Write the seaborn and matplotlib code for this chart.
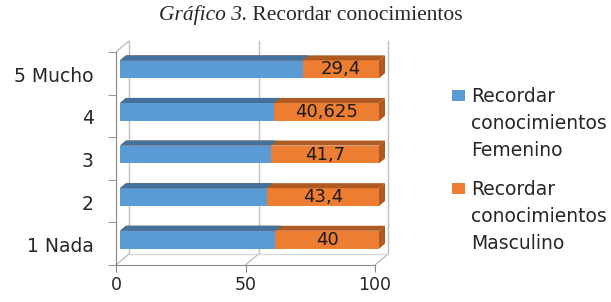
import numpy as np
import seaborn as sns
import matplotlib.pyplot as plt
import matplotlib.transforms as mtransforms
from matplotlib.patches import Polygon, Rectangle

# datos
categorias = ["5 Mucho", "4", "3", "2", "1 Nada"]
femenino = [70.6, 59.375, 58.3, 56.6, 60]
masculino = [29.4, 40.625, 41.7, 43.4, 40]
etiquetas_masc = ["29,4", "40,625", "41,7", "43,4", "40"]
ticks_x = [0, 50, 100]
series = ["Recordar\nconocimientos\nFemenino", "Recordar\nconocimientos\nMasculino"]

azul, azul_osc = "#5B9BD5", "#41719C"
naranja, naranja_osc = "#ED7D31", "#AE5A21"

sns.set_style("white")
plt.rcParams["font.family"] = ["DejaVu Sans"]

fig = plt.figure(figsize=(6.11, 3.02), dpi=100)
W, H = 611, 302
ax = fig.add_axes([116 / W, 1 - 265 / H, (375 - 116) / W, (265 - 52) / H])

totales = [f + m for f, m in zip(femenino, masculino)]
sns.barplot(x=totales, y=categorias, color=naranja, orient="h", width=0.42,
            saturation=1, ax=ax)
sns.barplot(x=femenino, y=categorias, color=azul, orient="h", width=0.42,
            saturation=1, ax=ax)
ax.set_xlim(0, 100)
ax.set_ylim(4.5, -0.5)

# desplazamiento 3D (px)
bx, by = 4, 4      # barras dentro de la caja
dx, dy = 6, 5      # profundidad de la barra
wx, wy = 13, 11    # pared del fondo

shift = ax.transData + mtransforms.Affine2D().translate(bx, by)
ident = mtransforms.IdentityTransform()
fig.canvas.draw()
for p in list(ax.patches):
    p.set_transform(shift)
    p.set_clip_on(False)
    p.set_edgecolor("none")
    x0, y0 = p.get_x(), p.get_y()
    x1, y1 = x0 + p.get_width(), y0 + p.get_height()
    (X0, Yb), (X1, Yt) = shift.transform([(x0, y1), (x1, y0)])
    es_naranja = p.get_facecolor()[0] > 0.8
    oscuro = naranja_osc if es_naranja else azul_osc
    top = [(X0, Yt), (X1, Yt), (X1 + dx, Yt + dy), (X0 + dx, Yt + dy)]
    ax.add_patch(Polygon(top, closed=True, facecolor=oscuro, edgecolor="none",
                         transform=ident, zorder=3, clip_on=False))
    if es_naranja:
        side = [(X1, Yb), (X1, Yt), (X1 + dx, Yt + dy), (X1 + dx, Yb + dy)]
        ax.add_patch(Polygon(side, closed=True, facecolor=oscuro, edgecolor="none",
                             transform=ident, zorder=3, clip_on=False))

# etiquetas de datos
for i, (f, m, t) in enumerate(zip(femenino, masculino, etiquetas_masc)):
    ax.text(f + m / 2, i, t, ha="center", va="center", fontsize=13,
            color="#1a1a1a", transform=shift, zorder=4)

# pared del fondo y suelo
back = ax.transData + mtransforms.Affine2D().translate(wx, wy)
for v in ticks_x:
    ax.plot([v, v], [4.5, -0.5], color="#BFBFBF", lw=1, transform=back, zorder=0,
            clip_on=False)
    (a, b), = ax.transData.transform([(v, 4.5)])
    ax.plot([a, a + wx], [b, b + wy], color="#BFBFBF", lw=1,
            transform=ident, zorder=0, clip_on=False)
ax.plot([0, 100], [4.5, 4.5], color="#D9D9D9", lw=1, transform=back, zorder=0,
        clip_on=False)
(a, b), = ax.transData.transform([(0, -0.5)])
ax.plot([a, a + wx], [b, b + wy], color="#BFBFBF", lw=1,
        transform=ident, zorder=0, clip_on=False)

for s in ["top", "right"]:
    ax.spines[s].set_visible(False)
for s in ["left", "bottom"]:
    ax.spines[s].set_color("#868686")

ax.set_xticks(ticks_x)
ax.set_xticklabels([str(v) for v in ticks_x], fontsize=12.5)
ax.set_yticks(range(len(categorias)))
ax.set_yticklabels(categorias, fontsize=13.5, va="center")
ax.set_yticks(np.arange(-0.5, 5), minor=True)
ax.tick_params(axis="y", which="major", length=0, pad=16)
ax.tick_params(axis="y", which="minor", length=6, color="#868686", left=True)
ax.tick_params(axis="x", length=5, color="#868686", bottom=True, pad=3)
ax.set_xlabel("")
ax.set_ylabel("")
for t in ax.get_yticklabels():
    t.set_transform(t.get_transform() + mtransforms.Affine2D().translate(0, -3))

# leyenda (marcador alineado con la primera linea, como Excel)
for k, (lab, col) in enumerate(zip(series, [azul, naranja])):
    top_px = 87 + k * 93
    fig.patches.append(Rectangle((452 / W, 1 - (top_px + 14) / H), 13 / W, 11 / H,
                                 transform=fig.transFigure, facecolor=col,
                                 edgecolor="none"))
    fig.text(471 / W, 1 - top_px / H, lab, fontsize=13.5, va="top", ha="left",
             linespacing=1.54)

t1 = fig.text(0, 1 - 15 / H, "Gráfico 3.", family="Liberation Serif",
              style="italic", fontsize=15.5, va="center", ha="left")
t2 = fig.text(0, 1 - 15 / H, " Recordar conocimientos", family="Liberation Serif",
              fontsize=15.5, va="center", ha="left")
r = fig.canvas.get_renderer()
w1 = t1.get_window_extent(r).width
w2 = t2.get_window_extent(r).width
x_ini = 311 - (w1 + w2) / 2
t1.set_x(x_ini / W)
t2.set_x((x_ini + w1) / W)

fig.savefig("out.png", dpi=100)
